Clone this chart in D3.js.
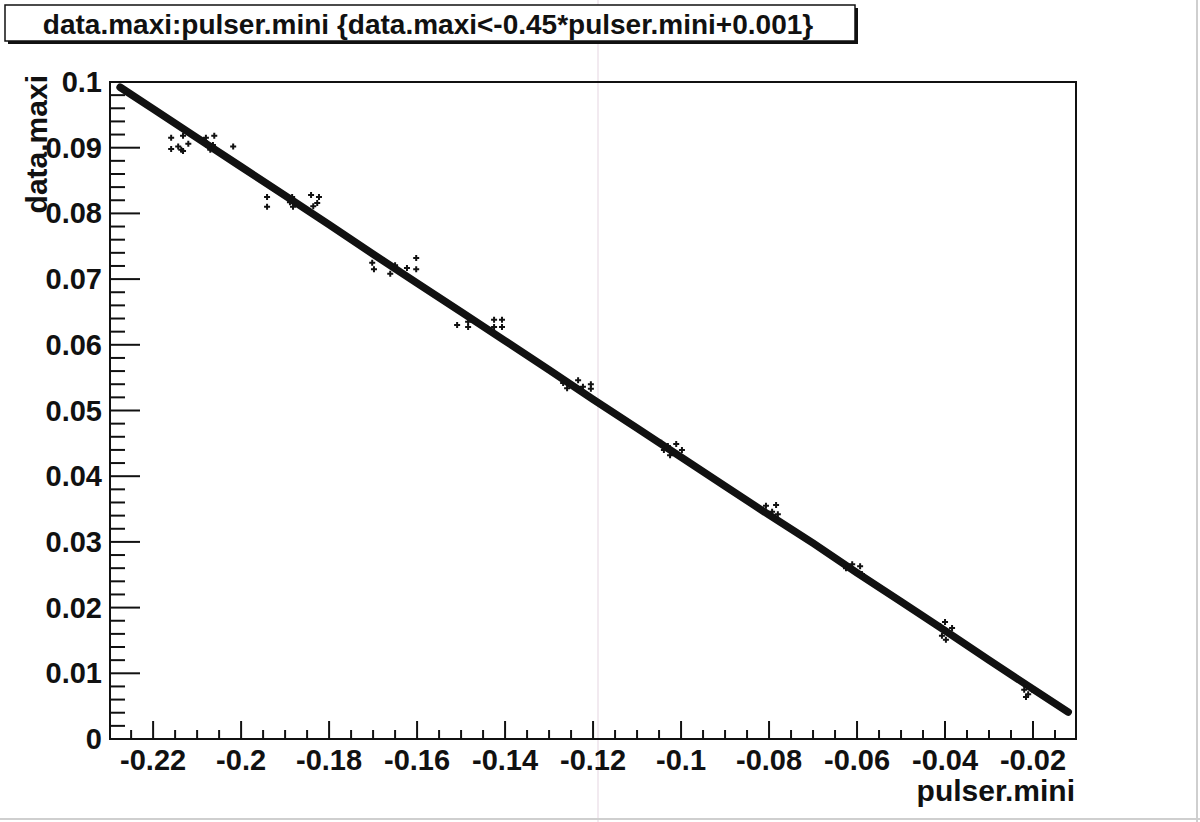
<!DOCTYPE html>
<html>
<head>
<meta charset="utf-8">
<script src="https://cdn.jsdelivr.net/npm/d3@7"></script>
<style>
html,body{margin:0;padding:0;background:#fff;}
svg{display:block;}
text{font-family:"Liberation Sans",Arial,Helvetica,sans-serif;font-weight:bold;fill:#111;}
</style>
</head>
<body>
<svg id="c" width="1200" height="822"></svg>
<script>
// ---- data ----
const titleText = "data.maxi:pulser.mini {data.maxi<-0.45*pulser.mini+0.001}";
const xTitle = "pulser.mini";
const yTitle = "data.maxi";
const xTickValues = [-0.22,-0.2,-0.18,-0.16,-0.14,-0.12,-0.1,-0.08,-0.06,-0.04,-0.02];
const xTickLabels = ["-0.22","-0.2","-0.18","-0.16","-0.14","-0.12","-0.1","-0.08","-0.06","-0.04","-0.02"];
const yTickValues = [0,0.01,0.02,0.03,0.04,0.05,0.06,0.07,0.08,0.09,0.1];
const yTickLabels = ["0","0.01","0.02","0.03","0.04","0.05","0.06","0.07","0.08","0.09","0.1"];

// dense band of events (centre of band)
const bandX = [-0.2275,-0.22,-0.21,-0.20,-0.19,-0.18,-0.17,-0.16,-0.15,-0.14,-0.13,-0.12,-0.11,-0.10,-0.09,-0.08,-0.07,-0.06,-0.05,-0.04,-0.03,-0.02,-0.012];
const bandY = [0.0992,0.0959,0.0915,0.0871,0.0827,0.0783,0.0738,0.0694,0.0650,0.0606,0.0562,0.0517,0.0473,0.0429,0.0385,0.0341,0.0298,0.0253,0.0209,0.0165,0.0120,0.0076,0.0041];

// individual events off / on the band
const ptX = [-0.2159,-0.2159,-0.2143,-0.2136,-0.2132,-0.2132,-0.2120,
  -0.2082,-0.2075,-0.2070,-0.2064,-0.2080,-0.2061,-0.2018,
  -0.1941,-0.1941,-0.1884,-0.1882,-0.1889,-0.1841,-0.1823,-0.1827,-0.1836,
  -0.1702,-0.1698,-0.1677,-0.1661,-0.1650,-0.1623,-0.1602,-0.1602,
  -0.1509,-0.1484,-0.1484,-0.1464,-0.1425,-0.1425,-0.1407,-0.1407,
  -0.1268,-0.1259,-0.1234,-0.1223,-0.1205,-0.1205,
  -0.1045,-0.1039,-0.1030,-0.1020,-0.1011,-0.0998,-0.1025,
  -0.0834,-0.0820,-0.0807,-0.0793,-0.0784,-0.0780,
  -0.0625,-0.0611,-0.0602,-0.0593,-0.0589,
  -0.0411,-0.0400,-0.0393,-0.0407,-0.0384,-0.0398,
  -0.0220,-0.0211,-0.0202,-0.0216];
const ptY = [0.0915,0.0898,0.0902,0.0897,0.0895,0.0918,0.0906,
  0.0910,0.0902,0.0897,0.0904,0.0915,0.0918,0.0902,
  0.0825,0.0810,0.0825,0.0810,0.0817,0.0828,0.0825,0.0816,0.0811,
  0.0725,0.0715,0.0729,0.0708,0.0721,0.0717,0.0732,0.0715,
  0.0630,0.0635,0.0627,0.0633,0.0638,0.0627,0.0638,0.0627,
  0.0542,0.0534,0.0546,0.0536,0.0540,0.0533,
  0.0451,0.0440,0.0446,0.0437,0.0449,0.0440,0.0432,
  0.0356,0.0349,0.0355,0.0346,0.0356,0.0342,
  0.0260,0.0266,0.0254,0.0263,0.0251,
  0.0172,0.0178,0.0163,0.0157,0.0169,0.0151,
  0.0075,0.0068,0.0075,0.0064];

// ---- drawing ----
const svg = d3.select("#c");
const L = 110, R = 1076, T = 82, B = 739;
const x = d3.scaleLinear().domain([-0.2298, -0.01023]).range([L, R]);
const y = d3.scaleLinear().domain([0, 0.1]).range([B, T]);

// scan artefacts
svg.append("line").attr("x1",598).attr("x2",598).attr("y1",0).attr("y2",822)
  .attr("stroke","#e9dce6").attr("stroke-width",1.2);
svg.append("line").attr("x1",1197).attr("x2",1197).attr("y1",0).attr("y2",822)
  .attr("stroke","#cfcfcf").attr("stroke-width",2);
svg.append("line").attr("x1",0).attr("x2",1200).attr("y1",819).attr("y2",819)
  .attr("stroke","#cfcfcf").attr("stroke-width",2);

// title box with shadow
const tb = {x:5, y:5, w:850, h:36};
svg.append("rect").attr("x",tb.x+3).attr("y",tb.y+3).attr("width",tb.w).attr("height",tb.h).attr("fill","#111");
svg.append("rect").attr("x",tb.x).attr("y",tb.y).attr("width",tb.w).attr("height",tb.h)
  .attr("fill","#fff").attr("stroke","#111").attr("stroke-width",1.5);
svg.append("text").attr("x",tb.x+tb.w/2 - 2).attr("y",tb.y+tb.h/2+1).attr("text-anchor","middle")
  .attr("dominant-baseline","central").style("font-size","28px").text(titleText);

// band
const line = d3.line().x((d,i)=>x(bandX[i])).y((d,i)=>y(bandY[i]));
svg.append("path").datum(bandX).attr("d",line).attr("fill","none")
  .attr("stroke","#111").attr("stroke-width",7.5).attr("stroke-linecap","round").attr("stroke-linejoin","round");

// events as + markers
const g = svg.append("g");
ptX.forEach((v,i)=>{
  const cx = x(v), cy = y(ptY[i]);
  g.append("path").attr("d",`M${cx-3},${cy}H${cx+3}M${cx},${cy-3}V${cy+3}`)
    .attr("stroke","#111").attr("stroke-width",2).attr("fill","none");
});

// frame
svg.append("rect").attr("x",L).attr("y",T).attr("width",R-L).attr("height",B-T)
  .attr("fill","none").attr("stroke","#111").attr("stroke-width",2);

// axes ticks
const yMinor = d3.range(0, 0.1001, 0.002);
svg.append("g").selectAll("line").data(yMinor).join("line")
  .attr("x1",L).attr("x2",(d)=> (Math.abs(Math.round(d*1000)%10)<1e-6 ? L+30 : L+15))
  .attr("y1",d=>y(d)).attr("y2",d=>y(d)).attr("stroke","#111").attr("stroke-width",2);
const xMinor = d3.range(-0.225, -0.0124, 0.005);
svg.append("g").selectAll("line").data(xMinor).join("line")
  .attr("x1",d=>x(d)).attr("x2",d=>x(d)).attr("y1",B)
  .attr("y2",d=> (Math.abs(Math.round(d*1000))%20===0 ? B-18 : B-9))
  .attr("stroke","#111").attr("stroke-width",2);

// tick labels
svg.append("g").selectAll("text").data(yTickValues).join("text")
  .attr("x",102).attr("y",d=>y(d)).attr("text-anchor","end").attr("dominant-baseline","central")
  .style("font-size","29px").text((d,i)=>yTickLabels[i]);
svg.append("g").selectAll("text").data(xTickValues).join("text")
  .attr("x",d=>x(d)).attr("y",770).attr("text-anchor","middle")
  .style("font-size","29px").text((d,i)=>xTickLabels[i]);

// axis titles
svg.append("text").attr("x",1075).attr("y",801).attr("text-anchor","end")
  .style("font-size","30px").text(xTitle);
svg.append("text").attr("transform","translate(47,75) rotate(-90)").attr("text-anchor","end")
  .style("font-size","30px").text(yTitle);
</script>
</body>
</html>
